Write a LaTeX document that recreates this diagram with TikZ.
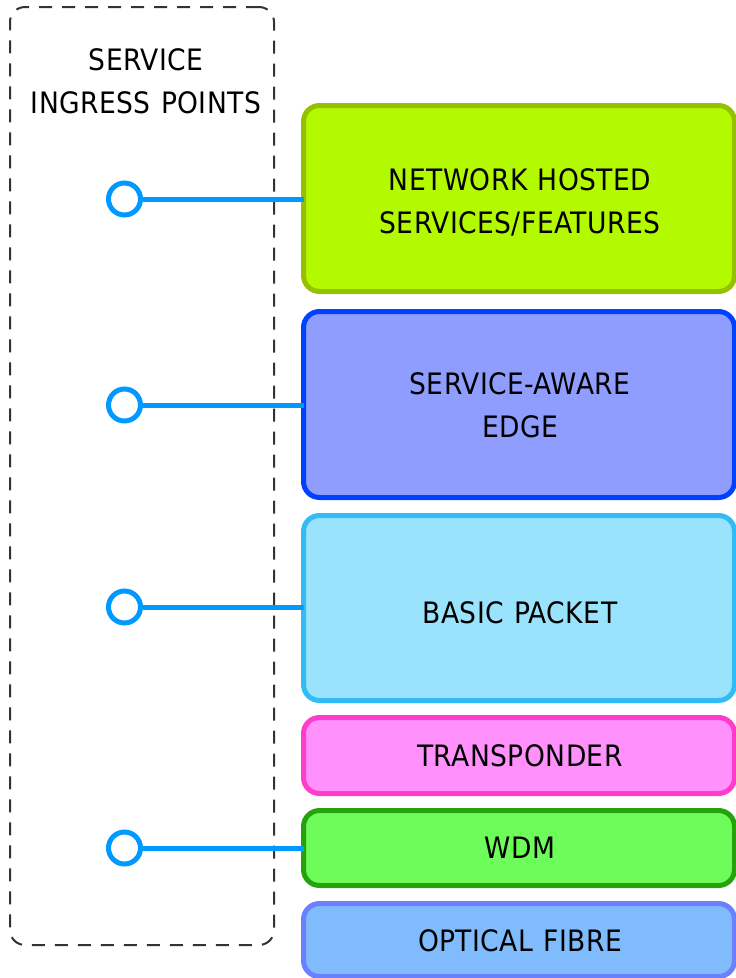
\documentclass[tikz,border=0pt]{standalone}
\usepackage{fontspec}
\setmainfont[LetterSpace=1.6,WordSpace=1.15]{DejaVu Sans Condensed}
\definecolor{linkc}{HTML}{0099FF}
\definecolor{dashc}{HTML}{333333}
\definecolor{f1}{HTML}{B3F900}\definecolor{d1}{HTML}{95C100}
\definecolor{f2}{HTML}{8F9DFF}\definecolor{d2}{HTML}{0040FF}
\definecolor{f3}{HTML}{99E4FC}\definecolor{d3}{HTML}{33BBF8}
\definecolor{f4}{HTML}{FF90FC}\definecolor{d4}{HTML}{FF3CCC}
\definecolor{f5}{HTML}{6DFC5A}\definecolor{d5}{HTML}{26A30C}
\definecolor{f6}{HTML}{80BCFD}\definecolor{d6}{HTML}{6B80FD}
\begin{document}
\begin{tikzpicture}[x=1pt,y=-1pt,
  layer/.style={draw, line width=5pt, rounded corners=16pt, minimum width=431pt,
    inner sep=0pt, outer sep=0pt},
  lbl/.style={align=center, inner sep=0pt, font=\fontsize{29.5pt}{43pt}\selectfont, text=black},
  port/.style={circle, draw=linkc, fill=white, line width=5pt, minimum size=32pt, inner sep=0pt, outer sep=2.5pt},
  link/.style={draw=linkc, line width=5pt}]
\useasboundingbox (0,0) rectangle (736,978);
\node[draw=dashc, dash pattern=on 13pt off 10pt, line width=2pt, rounded corners=15pt,
  minimum width=264pt, minimum height=938pt, inner sep=0pt] (grp) at (142,476) {};
\node[lbl] (title) at (146,81.5) {SERVICE\\INGRESS POINTS};
\node[layer, fill=f1, draw=d1, minimum height=186pt] (b1) at (519,198.5) {};
\node[layer, fill=f2, draw=d2, minimum height=186pt] (b2) at (519,404.5) {};
\node[layer, fill=f3, draw=d3, minimum height=185pt] (b3) at (519,608) {};
\node[layer, fill=f4, draw=d4, minimum height=76pt] (b4) at (519,755.5) {};
\node[layer, fill=f5, draw=d5, minimum height=75pt] (b5) at (519,848) {};
\node[layer, fill=f6, draw=d6, minimum height=73pt] (b6) at (519,940) {};
\node[lbl] (t1) at (520,202) {NETWORK HOSTED\\SERVICES/FEATURES};
\node[lbl] (t2) at (520,405) {SERVICE-AWARE\\EDGE};
\node[lbl] (t3) at (520,613) {BASIC PACKET};
\node[lbl] (t4) at (520,755.5) {TRANSPONDER};
\node[lbl] (t5) at (520,848) {WDM};
\node[lbl] (t6) at (520,941) {OPTICAL FIBRE};
\node[port] (c1) at (124.5,199) {};
\node[port] (c2) at (124.5,405) {};
\node[port] (c3) at (124.5,607) {};
\node[port] (c4) at (124.5,848) {};
\draw[link] (c1) -- (c1 -| b1.west);
\draw[link] (c2) -- (c2 -| b2.west);
\draw[link] (c3) -- (c3 -| b3.west);
\draw[link] (c4) -- (c4 -| b5.west);
\end{tikzpicture}
\end{document}
